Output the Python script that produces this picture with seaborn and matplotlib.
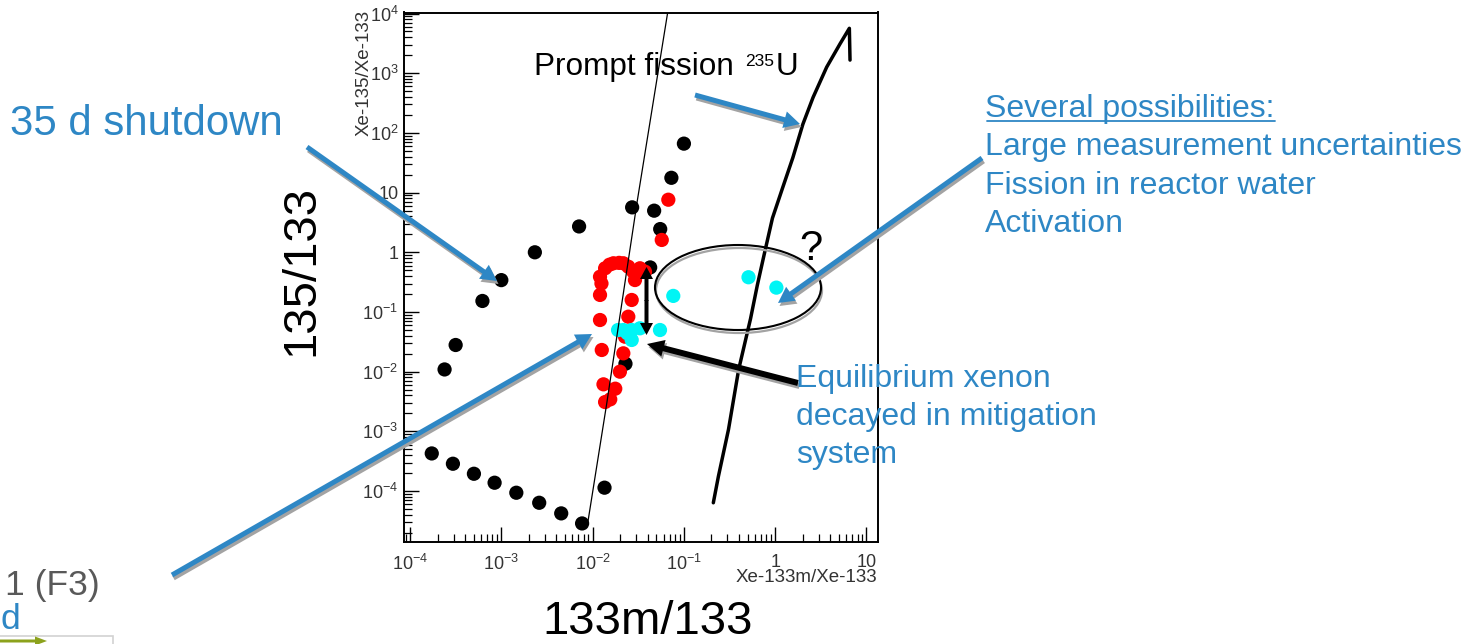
import numpy as np
import pandas as pd
import matplotlib
matplotlib.use("Agg")
import matplotlib.pyplot as plt
import seaborn as sns
from matplotlib.patches import FancyArrow, Ellipse, Rectangle
from matplotlib.transforms import IdentityTransform
from matplotlib.lines import Line2D
from matplotlib.ticker import FixedLocator, FixedFormatter, LogLocator, NullFormatter

W, H = 1483, 644

# ---------------- data ----------------
black_x = [6.21e-4, 1.0e-3, 2.33e-3, 7.11e-3, 0.0271, 0.0472, 0.0550, 0.0729, 0.100, 0.0427,
           3.16e-4, 2.39e-4, 1.73e-4, 2.95e-4, 5.01e-4, 8.44e-4, 1.46e-3, 2.60e-3, 4.53e-3,
           7.67e-3, 0.0135, 0.0229]
black_y = [0.153, 0.342, 1.0, 2.71, 5.66, 4.98, 2.45, 17.7, 66.1, 0.558,
           0.0280, 0.0109, 4.27e-4, 2.87e-4, 1.95e-4, 1.38e-4, 9.38e-5, 6.37e-5, 4.23e-5,
           2.87e-5, 1.14e-4, 0.0136]

red_x = [0.01205, 0.0125, 0.0137, 0.0153, 0.0169, 0.0195, 0.0217, 0.0246,
         0.01205, 0.01205, 0.0126,
         0.0279, 0.0330, 0.0375, 0.0291, 0.0268, 0.0246, 0.0226, 0.0217, 0.0199,
         0.01315, 0.0177, 0.0156, 0.0137,
         0.0675, 0.0572]
red_y = [0.390, 0.300, 0.540, 0.620, 0.655, 0.665, 0.655, 0.574,
         0.193, 0.0734, 0.0231,
         0.473, 0.540, 0.473, 0.343, 0.159, 0.0834, 0.0386, 0.0203, 0.0100,
         0.00614, 0.00519, 0.00344, 0.00310,
         7.6, 1.61]

cyan_x = [0.0765, 0.510, 1.03, 0.0190, 0.0217, 0.0268, 0.0330, 0.0268, 0.0240, 0.0547]
cyan_y = [0.186, 0.382, 0.256, 0.0499, 0.0499, 0.0499, 0.0533, 0.0340, 0.0440, 0.0499]

thin_x = [0.00873, 0.01432, 0.0308, 0.0664]
thin_y = [2.59e-5, 3.02e-3, 7.15, 1.04e4]

prompt_x = [0.210, 0.239, 0.308, 0.398, 0.537, 0.637, 0.755, 0.933, 1.205, 1.56, 2.01,
            2.60, 3.66, 5.14, 6.49, 6.60]
prompt_y = [6.37e-5, 1.78e-4, 1.08e-3, 0.0109, 0.0773, 0.281, 0.901, 3.74, 12.0, 38.4, 140,
            394, 1262, 3120, 5650, 1660]

x_ticks = [1e-4, 1e-3, 1e-2, 1e-1, 1, 10]
x_ticklabels = ['$10^{-4}$', '$10^{-3}$', '$10^{-2}$', '$10^{-1}$', '1', '10']
y_ticks = [1e-4, 1e-3, 1e-2, 1e-1, 1, 10, 1e2, 1e3, 1e4]
y_ticklabels = ['$10^{-4}$', '$10^{-3}$', '$10^{-2}$', '$10^{-1}$', '1', '10',
                '$10^{2}$', '$10^{3}$', '$10^{4}$']

BLUE = '#2e87c5'
SHADOW = '#a3a3a3'

# ---------------- style ----------------
sns.set_style('white')
plt.rcParams['font.family'] = ['Liberation Sans', 'DejaVu Sans']
plt.rcParams['mathtext.fontset'] = 'custom'
plt.rcParams['mathtext.rm'] = 'Liberation Sans'
plt.rcParams['mathtext.it'] = 'Liberation Sans:italic'
plt.rcParams['mathtext.bf'] = 'Liberation Sans:bold'

fig = plt.figure(figsize=(W / 100, H / 100), dpi=100)
fig.patch.set_facecolor('white')
ax = fig.add_axes([404 / W, 1 - 541.7 / H, 474 / W, 529.2 / H])
ax.set_xscale('log')
ax.set_yscale('log')

# points
pts = pd.concat([
    pd.DataFrame({'x': black_x, 'y': black_y, 'g': 'black'}),
    pd.DataFrame({'x': red_x, 'y': red_y, 'g': 'red'}),
    pd.DataFrame({'x': cyan_x, 'y': cyan_y, 'g': 'cyan'}),
])
for g, c, z in [('black', '#000000', 3), ('red', '#ff0000', 4), ('cyan', '#00f5f5', 5)]:
    d = pts[pts.g == g]
    sns.scatterplot(data=d, x='x', y='y', color=c, s=105, edgecolor='none', linewidth=0,
                    ax=ax, zorder=z, legend=False)

# lines
sns.lineplot(x=thin_x, y=thin_y, sort=False, estimator=None, color='black', lw=0.9,
             ax=ax, zorder=6)
sns.lineplot(x=prompt_x, y=prompt_y, sort=False, estimator=None, color='black', lw=2.5,
             ax=ax, zorder=6)

ax.set_xlim(10 ** -4.066, 10 ** 1.126)
ax.set_ylim(10 ** -4.848, 10 ** 4.017)

ax.xaxis.set_major_locator(FixedLocator(x_ticks))
ax.xaxis.set_major_formatter(FixedFormatter(x_ticklabels))
ax.yaxis.set_major_locator(FixedLocator(y_ticks))
ax.yaxis.set_major_formatter(FixedFormatter(y_ticklabels))
ax.xaxis.set_minor_locator(LogLocator(base=10, subs=np.arange(2, 10), numticks=20))
ax.yaxis.set_minor_locator(LogLocator(base=10, subs=np.arange(2, 10), numticks=20))
ax.xaxis.set_minor_formatter(NullFormatter())
ax.yaxis.set_minor_formatter(NullFormatter())
ax.tick_params(which='both', direction='in', bottom=True, left=True, top=False, right=False,
               color='black', labelcolor='#333333', labelsize=13)
ax.tick_params(which='major', length=10.5, width=1.0)
ax.tick_params(which='minor', length=5.5, width=0.9)
ax.tick_params(axis='x', pad=9)
ax.tick_params(axis='y', pad=4)
for s in ax.spines.values():
    s.set_color('black')
    s.set_linewidth(1.4)
ax.set_xlabel('')
ax.set_ylabel('')


# ---------------- helpers ----------------
def T(x, y, s, **kw):
    fig.text(x / W, 1 - y / H, s, **kw)


def arrow(x0, y0, x1, y1, color, width, hw, hl, shadow=True):
    if shadow:
        fig.add_artist(FancyArrow(x0 + 1.5, H - y0 - 3, x1 - x0, -(y1 - y0), width=width,
                                  head_width=hw, head_length=hl, length_includes_head=True,
                                  transform=IdentityTransform(), color=SHADOW, lw=0))
    fig.add_artist(FancyArrow(x0, H - y0, x1 - x0, -(y1 - y0), width=width,
                              head_width=hw, head_length=hl, length_includes_head=True,
                              transform=IdentityTransform(), color=color, lw=0))


# axis titles (ROOT style)
T(364, 10, 'Xe-135/Xe-133', rotation=90, ha='center', va='top', fontsize=13.5, color='#333333')
T(877, 582, 'Xe-133m/Xe-133', ha='right', va='baseline', fontsize=13.5, color='#333333')

# big slide labels
T(301.5, 270, '135/133', rotation=90, ha='center', va='center', fontsize=34, color='black')
T(647.5, 643.5, '133m/133', ha='center', va='bottom', fontsize=34, color='black')

# prompt fission label
T(534, 75, 'Prompt fission', ha='left', va='baseline', fontsize=22.7, color='black')
T(745, 66.5, '235', ha='left', va='baseline', fontsize=12.5, color='black')
T(776, 75, 'U', ha='left', va='baseline', fontsize=22.7, color='black')

T(10, 135, '35 d shutdown', ha='left', va='baseline', fontsize=30.2, color=BLUE)
T(799, 260, '?', ha='left', va='baseline', fontsize=30, color='black')

# possibilities block
T(985, 117.3, 'Several possibilities:', ha='left', va='baseline', fontsize=23, color=BLUE)
fig.add_artist(Line2D([987, 1275], [H - 121, H - 121], transform=IdentityTransform(),
                      color=BLUE, lw=1.3))
T(985, 155.5, 'Large measurement uncertainties', ha='left', va='baseline', fontsize=23, color=BLUE)
T(985, 193.5, 'Fission in reactor water', ha='left', va='baseline', fontsize=23, color=BLUE)
T(985, 232, 'Activation', ha='left', va='baseline', fontsize=23, color=BLUE)

# equilibrium block
T(796, 386.7, 'Equilibrium xenon', ha='left', va='baseline', fontsize=23, color=BLUE)
T(796, 425, 'decayed in mitigation', ha='left', va='baseline', fontsize=23, color=BLUE)
T(796, 463.3, 'system', ha='left', va='baseline', fontsize=23, color=BLUE)

# slide remnants bottom-left
T(5, 595, '1 (F3)', ha='left', va='baseline', fontsize=25.5, color='#595959')
T(0, 629, 'd', ha='left', va='baseline', fontsize=25.5, color=BLUE)
fig.add_artist(Rectangle((-2, -5), 115, 13, transform=IdentityTransform(),
                         facecolor='white', edgecolor='#d2d2d2', lw=1.2))
fig.add_artist(FancyArrow(-2, 3, 49, 0, width=3, head_width=9, head_length=12,
                          length_includes_head=True, transform=IdentityTransform(),
                          color='#8ca21c', lw=0))

# ellipse with shadow
fig.add_artist(Ellipse((739, H - 290.5), 166, 85, transform=IdentityTransform(),
                       facecolor='none', edgecolor=SHADOW, lw=1.6))
fig.add_artist(Ellipse((738, H - 287.5), 166, 85, transform=IdentityTransform(),
                       facecolor='none', edgecolor='black', lw=1.5))

# arrows
arrow(307, 147, 497, 281, BLUE, 5, 17, 16)
arrow(172, 575, 592, 334, BLUE, 5, 17, 16)
arrow(695, 95, 800, 124, BLUE, 5, 17, 16)
arrow(982, 158, 778, 303, BLUE, 5, 17, 16)
arrow(798, 383, 647, 344, 'black', 6, 17, 17)
# double-headed vertical arrow
arrow(646.5, 301, 646.5, 267, 'black', 4, 13, 12, shadow=False)
arrow(646.5, 300, 646.5, 335, 'black', 4, 13, 12, shadow=False)

fig.savefig('out.png', dpi=100, facecolor='white')
